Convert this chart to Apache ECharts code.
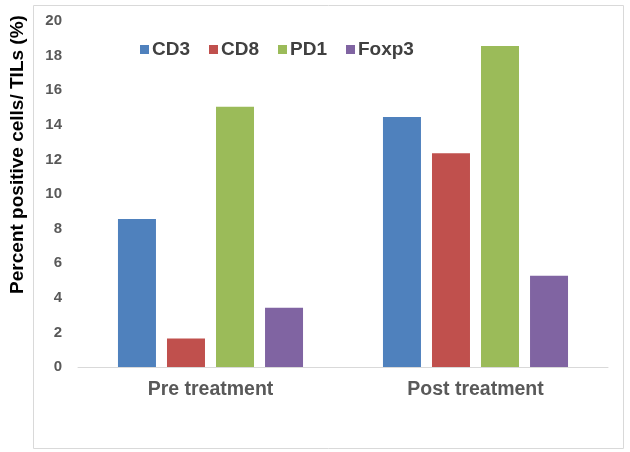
<!DOCTYPE html>
<html><head><meta charset="utf-8">
<script src="https://cdn.jsdelivr.net/npm/echarts@6/dist/echarts.min.js"></script>
<style>html,body{margin:0;padding:0;background:#fff}#c{width:630px;height:452px}</style>
</head><body><div id="c"></div>
<script>
const categories = ['Pre treatment', 'Post treatment'];
const seriesNames = ['CD3', 'CD8', 'PD1', 'Foxp3'];
const cd3 = [8.55, 14.45];
const cd8 = [1.65, 12.35];
const pd1 = [15.05, 18.55];
const foxp3 = [3.42, 5.28];
const yTicks = [0, 2, 4, 6, 8, 10, 12, 14, 16, 18, 20];
const colors = ['#4F81BD', '#C0504D', '#9BBB59', '#8064A2'];
const values = [cd3, cd8, pd1, foxp3];

const chart = echarts.init(document.getElementById('c'));
chart.setOption({
  animation: false,
  textStyle: {fontFamily: 'Liberation Sans, Arial, sans-serif'},
  graphic: [{type: 'rect', shape: {x: 33.5, y: 5.5, width: 590, height: 443}, style: {fill: 'none', stroke: '#d9d9d9', lineWidth: 1}, silent: true}],
  legend: {
    left: 135, top: 35, itemWidth: 9, itemHeight: 9, itemGap: 19, icon: 'rect',
    textStyle: {fontSize: 19, fontWeight: 'bold', color: '#404040', padding: [0, 0, 0, -2]},
    data: seriesNames
  },
  grid: {left: 74, right: 22, top: 21, bottom: 85},
  xAxis: {
    type: 'category', data: categories,
    axisLine: {lineStyle: {color: '#d9d9d9'}}, axisTick: {show: false},
    axisLabel: {fontSize: 19.5, fontWeight: 'bold', color: '#595959', margin: 13}
  },
  yAxis: {
    type: 'value', min: yTicks[0], max: yTicks[yTicks.length - 1], interval: 2,
    axisLine: {show: false}, axisTick: {show: false}, splitLine: {show: false},
    axisLabel: {fontSize: 15, fontWeight: 'bold', color: '#595959', margin: 16},
    name: 'Percent positive cells/ TILs (%)', nameLocation: 'middle', nameGap: 51,
    nameTextStyle: {fontSize: 19, fontWeight: 'bold', color: '#000', padding: [0, 0, 0, 79]}
  },
  series: seriesNames.map((n, i) => ({
    name: n, type: 'bar', data: values[i], barWidth: 38, barGap: '29%',
    itemStyle: {color: colors[i]}
  }))
});
</script></body></html>
